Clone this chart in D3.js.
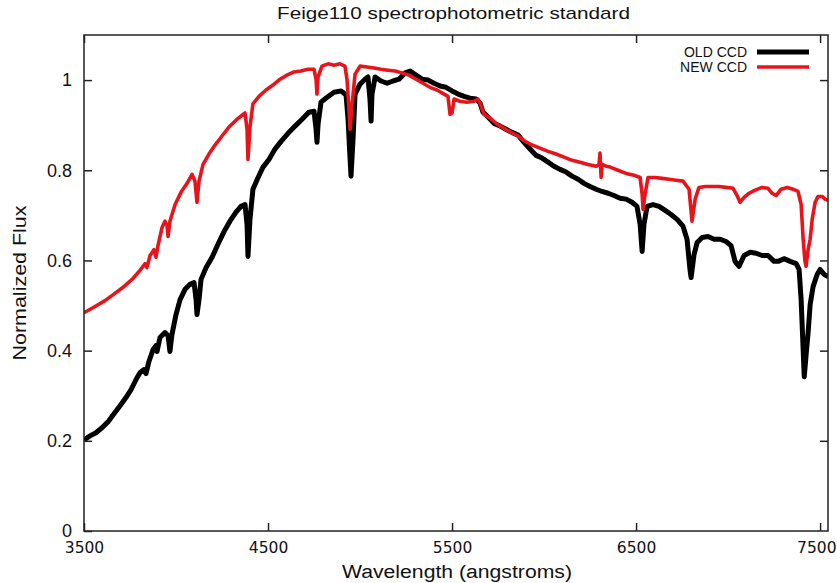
<!DOCTYPE html>
<html>
<head>
<meta charset="utf-8">
<script src="https://cdn.jsdelivr.net/npm/d3@7"></script>
<style>
  html, body { margin: 0; padding: 0; background: #fff; }
  svg { display: block; }
</style>
</head>
<body>
<svg id="chart" width="837" height="583"></svg>
<script>
// OLD CCD spectrum, wavelength in angstroms and normalized flux
const oldWave = [
  3500, 3533, 3565, 3598, 3630, 3663, 3696, 3728, 3755, 3783, 3804, 3826, 3837, 3853, 3875,
  3891, 3897, 3913, 3940, 3957, 3967, 3978, 4000, 4022, 4049, 4076, 4098, 4109, 4114, 4125,
  4136, 4163, 4196, 4228, 4261, 4293, 4326, 4353, 4375, 4386, 4391, 4402, 4418, 4446, 4473,
  4505, 4538, 4571, 4609, 4647, 4685, 4723, 4750, 4761, 4766, 4772, 4788, 4821, 4859, 4897,
  4924, 4935, 4946, 4951, 4962, 4973, 5000, 5027, 5043, 5054, 5060, 5065, 5082, 5114, 5147,
  5179, 5212, 5245, 5272, 5304, 5337, 5370, 5402, 5435, 5467, 5500, 5533, 5565, 5598, 5630,
  5652, 5668, 5696, 5728, 5761, 5793, 5826, 5859, 5891, 5924, 5957, 5989, 6022, 6054, 6087,
  6120, 6152, 6185, 6217, 6250, 6283, 6315, 6348, 6380, 6413, 6446, 6478, 6505, 6522, 6533,
  6543, 6560, 6592, 6625, 6658, 6690, 6723, 6755, 6777, 6793, 6799, 6815, 6832, 6859, 6891,
  6924, 6957, 6989, 7016, 7038, 7060, 7087, 7120, 7152, 7185, 7217, 7250, 7272, 7304, 7337,
  7370, 7386, 7397, 7408, 7414, 7424, 7435, 7446, 7462, 7484, 7500, 7522, 7543
];
const oldFlux = [
  0.202, 0.211, 0.218, 0.229, 0.242, 0.260, 0.278, 0.296, 0.313, 0.336, 0.351, 0.358, 0.349, 0.376, 0.402,
  0.411, 0.398, 0.429, 0.440, 0.433, 0.398, 0.436, 0.480, 0.513, 0.536, 0.547, 0.551, 0.513, 0.480, 0.513,
  0.558, 0.584, 0.607, 0.636, 0.664, 0.687, 0.707, 0.720, 0.724, 0.680, 0.609, 0.691, 0.758, 0.784, 0.807,
  0.824, 0.847, 0.864, 0.882, 0.898, 0.913, 0.929, 0.931, 0.891, 0.862, 0.902, 0.951, 0.962, 0.973, 0.976,
  0.967, 0.913, 0.824, 0.787, 0.869, 0.969, 0.991, 1.002, 1.007, 0.958, 0.909, 0.969, 1.007, 0.998, 0.993,
  0.998, 1.002, 1.016, 1.020, 1.011, 1.002, 1.000, 0.993, 0.987, 0.984, 0.976, 0.969, 0.964, 0.960, 0.958,
  0.949, 0.929, 0.918, 0.904, 0.898, 0.891, 0.884, 0.878, 0.862, 0.847, 0.833, 0.827, 0.818, 0.809, 0.802,
  0.796, 0.787, 0.780, 0.771, 0.764, 0.758, 0.753, 0.749, 0.744, 0.738, 0.736, 0.729, 0.720, 0.680, 0.620,
  0.680, 0.720, 0.724, 0.720, 0.711, 0.702, 0.691, 0.676, 0.647, 0.580, 0.562, 0.613, 0.640, 0.651, 0.653,
  0.647, 0.647, 0.642, 0.633, 0.598, 0.587, 0.611, 0.618, 0.616, 0.611, 0.611, 0.598, 0.598, 0.604, 0.598,
  0.593, 0.580, 0.513, 0.402, 0.342, 0.391, 0.440, 0.502, 0.542, 0.569, 0.580, 0.569, 0.564
];

// NEW CCD spectrum
const newWave = [
  3500, 3560, 3614, 3668, 3723, 3766, 3804, 3832, 3842, 3859, 3880, 3891, 3902, 3924, 3940,
  3951, 3957, 3967, 3995, 4027, 4060, 4087, 4103, 4114, 4125, 4147, 4179, 4212, 4250, 4288,
  4326, 4359, 4375, 4386, 4391, 4402, 4418, 4451, 4489, 4527, 4565, 4603, 4641, 4679, 4717,
  4750, 4761, 4766, 4772, 4793, 4826, 4859, 4891, 4918, 4929, 4940, 4946, 4957, 4973, 5000,
  5038, 5076, 5114, 5152, 5190, 5228, 5266, 5304, 5342, 5380, 5418, 5457, 5478, 5489, 5500,
  5511, 5543, 5581, 5620, 5641, 5657, 5674, 5707, 5745, 5783, 5821, 5859, 5897, 5935, 5978,
  6022, 6065, 6109, 6152, 6196, 6239, 6283, 6299, 6304, 6310, 6315, 6337, 6359, 6402, 6446,
  6489, 6522, 6533, 6538, 6549, 6565, 6603, 6641, 6679, 6717, 6755, 6788, 6804, 6821, 6842,
  6875, 6913, 6951, 6989, 7027, 7049, 7065, 7087, 7114, 7147, 7185, 7217, 7239, 7261, 7288,
  7321, 7353, 7380, 7397, 7408, 7418, 7424, 7435, 7446, 7457, 7473, 7489, 7511, 7527, 7543
];
const newFlux = [
  0.484, 0.498, 0.511, 0.527, 0.544, 0.560, 0.578, 0.593, 0.584, 0.611, 0.624, 0.607, 0.633, 0.673, 0.687,
  0.678, 0.653, 0.687, 0.724, 0.751, 0.771, 0.791, 0.776, 0.729, 0.776, 0.813, 0.836, 0.856, 0.876, 0.896,
  0.911, 0.922, 0.927, 0.891, 0.824, 0.896, 0.947, 0.964, 0.978, 0.989, 1.002, 1.011, 1.018, 1.020, 1.024,
  1.024, 1.002, 0.969, 1.007, 1.031, 1.036, 1.033, 1.036, 1.031, 1.002, 0.936, 0.891, 0.947, 1.013, 1.031,
  1.029, 1.027, 1.024, 1.022, 1.020, 1.016, 1.011, 1.002, 0.993, 0.984, 0.978, 0.969, 0.964, 0.924, 0.927,
  0.958, 0.953, 0.951, 0.953, 0.958, 0.944, 0.924, 0.916, 0.902, 0.893, 0.884, 0.876, 0.864, 0.856, 0.849,
  0.842, 0.836, 0.829, 0.822, 0.818, 0.813, 0.809, 0.813, 0.838, 0.784, 0.813, 0.809, 0.807, 0.800, 0.793,
  0.789, 0.784, 0.747, 0.713, 0.747, 0.784, 0.784, 0.782, 0.780, 0.778, 0.776, 0.758, 0.687, 0.736, 0.762,
  0.764, 0.764, 0.764, 0.762, 0.760, 0.744, 0.729, 0.740, 0.749, 0.756, 0.762, 0.760, 0.749, 0.744, 0.758,
  0.762, 0.758, 0.753, 0.724, 0.647, 0.598, 0.587, 0.624, 0.647, 0.691, 0.729, 0.742, 0.742, 0.736, 0.733
];

const xTicks = [3500, 4500, 5500, 6500, 7500];
const yTicks = [0, 0.2, 0.4, 0.6, 0.8, 1];
const seriesNames = ['OLD CCD', 'NEW CCD'];
const seriesColors = ['#000000', '#e8141c'];

const margin = { left: 84, top: 35, right: 9, bottom: 52 };
const width = 837;
const height = 583;

const svg = d3.select('#chart');

const x = d3.scaleLinear()
  .domain([3500, 7543])
  .range([margin.left, width - margin.right]);
const y = d3.scaleLinear()
  .domain([0, 1.1])
  .range([height - margin.bottom, margin.top]);

const series = [
  { name: seriesNames[0], color: seriesColors[0], width: 5,
    points: oldWave.map((w, i) => [w, oldFlux[i]]) },
  { name: seriesNames[1], color: seriesColors[1], width: 3.6,
    points: newWave.map((w, i) => [w, newFlux[i]]) },
];

svg.append('defs').append('clipPath')
  .attr('id', 'plot-clip')
  .append('rect')
  .attr('x', x.range()[0])
  .attr('y', y.range()[1])
  .attr('width', x.range()[1] - x.range()[0])
  .attr('height', y.range()[0] - y.range()[1]);

const line = d3.line()
  .x((d) => x(d[0]))
  .y((d) => y(d[1]));

svg.append('g')
  .attr('clip-path', 'url(#plot-clip)')
  .selectAll('path')
  .data(series)
  .join('path')
  .attr('fill', 'none')
  .attr('stroke', (s) => s.color)
  .attr('stroke-width', (s) => s.width)
  .attr('stroke-linejoin', 'round')
  .attr('d', (s) => line(s.points));

// frame + ticks, mirrored like gnuplot
const axisColor = '#222';
const tickLen = 8;
const frame = svg.append('g');
frame.append('rect')
  .attr('x', x.range()[0])
  .attr('y', y.range()[1])
  .attr('width', x.range()[1] - x.range()[0])
  .attr('height', y.range()[0] - y.range()[1])
  .attr('fill', 'none')
  .attr('stroke', axisColor)
  .attr('stroke-width', 1.5);

const bottomAxis = d3.axisBottom(x).tickValues(xTicks).tickSize(-tickLen).tickFormat(d3.format('d'));
const topAxis = d3.axisTop(x).tickValues(xTicks).tickSize(-tickLen).tickFormat('');
const leftAxis = d3.axisLeft(y).tickValues(yTicks).tickSize(-tickLen).tickFormat(d3.format('~g'));
const rightAxis = d3.axisRight(y).tickValues(yTicks.slice(1)).tickSize(-tickLen).tickFormat('');

function styleAxis(g) {
  g.select('.domain').remove();
  g.selectAll('.tick line').attr('stroke', axisColor).attr('stroke-width', 1.5);
  g.selectAll('.tick text').attr('fill', '#111');
}

frame.append('g')
  .attr('transform', `translate(0,${y.range()[0]})`)
  .call(bottomAxis)
  .call(styleAxis)
  .call((g) => g.selectAll('.tick text')
    .attr('font-family', '"DejaVu Sans", sans-serif')
    .attr('font-size', 15.5)
    .attr('dy', null)
    .attr('y', 22))
  // last label sits flush against the page edge
  .call((g) => g.selectAll('.tick text')
    .filter((d) => d === xTicks[xTicks.length - 1])
    .attr('text-anchor', 'end')
    .attr('x', width - 1 - x(xTicks[xTicks.length - 1])));

frame.append('g')
  .attr('transform', `translate(0,${y.range()[1]})`)
  .call(topAxis)
  .call(styleAxis);

frame.append('g')
  .attr('transform', `translate(${x.range()[0]},0)`)
  .call(leftAxis)
  .call(styleAxis)
  .call((g) => g.selectAll('.tick text')
    .attr('font-family', '"Liberation Sans", Arial, sans-serif')
    .attr('font-size', 18)
    .attr('x', -12));

frame.append('g')
  .attr('transform', `translate(${x.range()[1]},0)`)
  .call(rightAxis)
  .call(styleAxis);

// titles
const textFont = '"Liberation Sans", Arial, sans-serif';
svg.append('text')
  .attr('x', 453.5)
  .attr('y', 19)
  .attr('text-anchor', 'middle')
  .attr('font-family', textFont)
  .attr('font-size', 17)
  .attr('textLength', 353)
  .attr('lengthAdjust', 'spacingAndGlyphs')
  .attr('fill', '#111')
  .text('Feige110 spectrophotometric standard');

svg.append('text')
  .attr('x', 457)
  .attr('y', 578)
  .attr('text-anchor', 'middle')
  .attr('font-family', textFont)
  .attr('font-size', 18)
  .attr('textLength', 230)
  .attr('lengthAdjust', 'spacingAndGlyphs')
  .attr('fill', '#111')
  .text('Wavelength (angstroms)');

svg.append('text')
  .attr('transform', 'translate(26,283) rotate(-90)')
  .attr('text-anchor', 'middle')
  .attr('font-family', textFont)
  .attr('font-size', 19)
  .attr('textLength', 155)
  .attr('lengthAdjust', 'spacingAndGlyphs')
  .attr('fill', '#111')
  .text('Normalized Flux');

// legend, top right
const legend = svg.append('g')
  .selectAll('g')
  .data(series)
  .join('g')
  .attr('transform', (s, i) => `translate(0,${52 + i * 15})`);

legend.append('text')
  .attr('x', 747)
  .attr('y', 4.5)
  .attr('text-anchor', 'end')
  .attr('font-family', textFont)
  .attr('font-size', 14)
  .attr('fill', '#111')
  .text((s) => s.name);

legend.append('line')
  .attr('x1', 757)
  .attr('x2', 809)
  .attr('stroke', (s) => s.color)
  .attr('stroke-width', (s) => s.width);
</script>
</body>
</html>
